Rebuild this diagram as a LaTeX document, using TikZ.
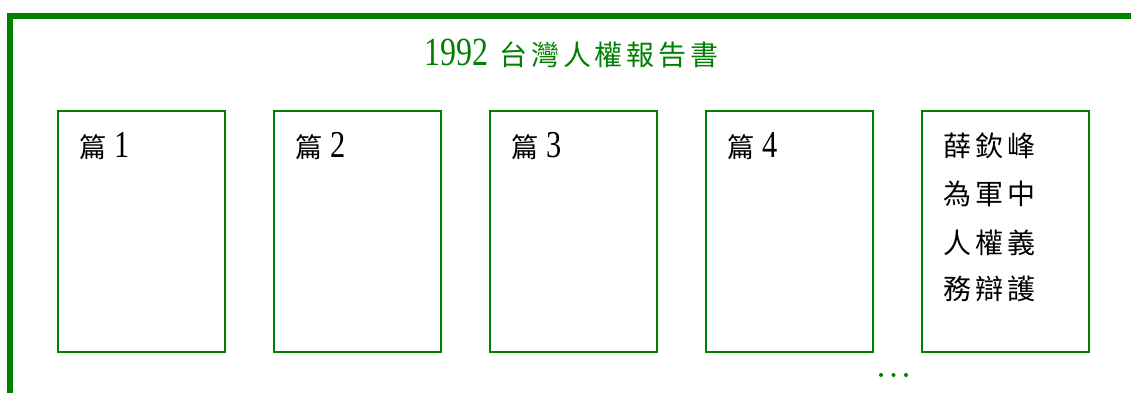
\documentclass[tikz,border=0pt]{standalone}
\usepackage{fontspec}
\setmainfont[FakeStretch=0.8]{Liberation Serif}
\newfontfamily\cjk[LetterSpace=14]{Noto Sans CJK TC}
\definecolor{framegreen}{RGB}{0,128,0}
\begin{document}
\begin{tikzpicture}[x=1pt,y=-1pt,
  box/.style={draw=framegreen, line width=2pt, minimum width=167pt, minimum height=241pt, inner sep=0pt},
  lbl/.style={anchor=base west, inner sep=0pt, font=\fontsize{38}{38}\selectfont},
  cjkline/.style={anchor=base west, inner sep=0pt, font=\cjk\fontsize{28}{28}\selectfont},
  titlestyle/.style={anchor=base, inner sep=0pt, text=framegreen, font=\fontsize{40}{40}\selectfont},
  dot/.style={fill=framegreen}]
\useasboundingbox (0,0) rectangle (1131,392);
\draw[framegreen, line width=6pt] (10,430) |- (1170,15.5);
\node[titlestyle] (title) at (571.5,65) {1992\hspace{11pt}{\cjk\fontsize{28}{28}\selectfont 台灣人權報告書}};
\foreach \i/\cx in {1/141.7,2/357.7,3/573.7,4/789.7,5/1005.7}{
  \node[box] (b\i) at (\cx,231) {};
}
\foreach \i in {1,2,3,4}{
  \node[lbl] (t\i) at ([xshift=22pt,yshift=-48pt]b\i.north west) {{\cjk\fontsize{27}{27}\selectfont 篇}\hspace{8pt}\i};
}
\node[cjkline] (l1) at ([xshift=22pt,yshift=-47pt]b5.north west) {薛欽峰};
\node[cjkline] (l2) at ([xshift=22pt,yshift=-95pt]b5.north west) {為軍中};
\node[cjkline] (l3) at ([xshift=22pt,yshift=-144pt]b5.north west) {人權義};
\node[cjkline] (l4) at ([xshift=22pt,yshift=-190pt]b5.north west) {務辯護};
\fill[dot] (881,375) circle (2);
\fill[dot] (893.5,375) circle (2);
\fill[dot] (906,375) circle (2);
\end{tikzpicture}
\end{document}
